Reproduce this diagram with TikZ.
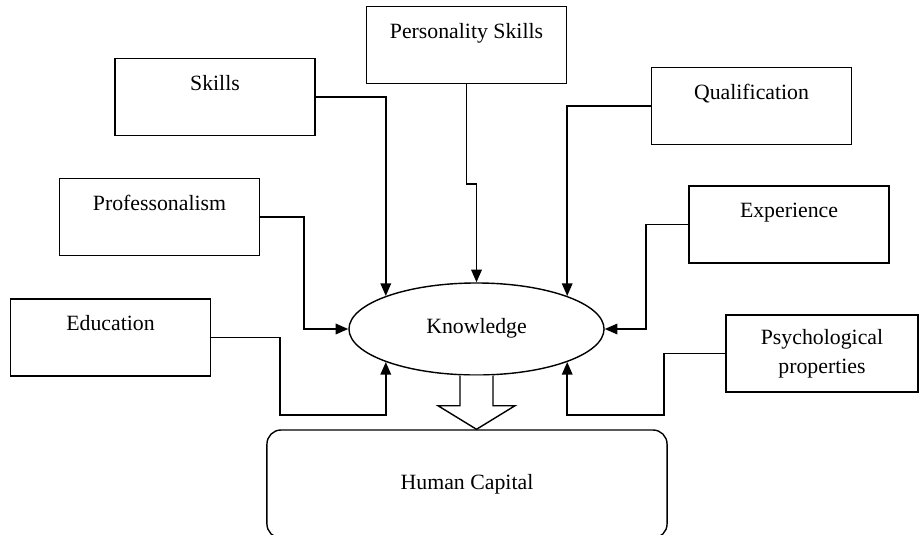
\documentclass[tikz,border=0pt]{standalone}
\usepackage{fontspec}
\setmainfont{Liberation Serif}
\usetikzlibrary{shapes, arrows.meta, positioning, calc}

\begin{document}
\begin{tikzpicture}[x=0.025cm, y=-0.025cm,
    factor/.style={draw, line width=1pt, minimum width=5cm, minimum height=1.925cm, inner sep=0pt, align=center, font=\fontsize{15.5}{20.6}\selectfont},
    link/.style={line width=1.2pt, -{Triangle[length=9pt, width=7.5pt]}}]
  \useasboundingbox (0,0) rectangle (919,534);
  % input factors
  \node[factor] (skills) at (215, 97) {Skills\\ \mbox{}};
  \node[factor] (pers) at (466.5, 45) {Personality Skills\\ \mbox{}};
  \node[factor] (qual) at (751.5, 106) {Qualification\\ \mbox{}};
  \node[factor] (prof) at (159.5, 217) {Professonalism\\ \mbox{}};
  \node[factor] (exper) at (789, 224.5) {Experience\\ \mbox{}};
  \node[factor] (edu) at (110.5, 337.5) {Education\\ \mbox{}};
  \node[factor, minimum width=4.8cm] (psych) at (822, 353.5) {Psychological\\properties};
  % centre and result
  \node[draw, ellipse, line width=1pt, minimum width=6.375cm, minimum height=2.3cm, inner sep=0pt, font=\fontsize{15.5}{20.6}\selectfont] (know) at (476.5, 329) {\raisebox{5pt}{Knowledge}};
  \node[draw, rounded corners=10pt, line width=1pt, minimum width=10cm, minimum height=2.7cm, inner sep=0pt, font=\fontsize{15.5}{20.6}\selectfont] (human) at (467, 484) {\raisebox{-4pt}{Human Capital}};
  % hollow arrow
  \draw[line width=1pt, fill=white] ($(know.south)+(-16.5,0)$) -- ++(0,30) -- ++(-22,0) -- (know.south |- human.north)
    -- ($(know.south)+(38.5,30)$) -- ++(-22,0) -- ($(know.south)+(16.5,0)$);
  % connectors
  \draw[link] (skills.east) -| (know.160);
  \draw[link] (pers.south) -- ++(0,100) -| (know.north);
  \draw[link] (qual.west) -| (know.20);
  \draw[link] (exper.west) -- ++(-42,0) |- (know.east);
  \draw[link] (prof.east) -- ++(44,0) |- (know.west);
  \draw[link] (edu.east) -- ++(69,0) -- ++(0,77.5) -| (know.200);
  \draw[link] (psych.west) -- ++(-61,0) -- ++(0,61.5) -| (know.340);
\end{tikzpicture}
\end{document}
